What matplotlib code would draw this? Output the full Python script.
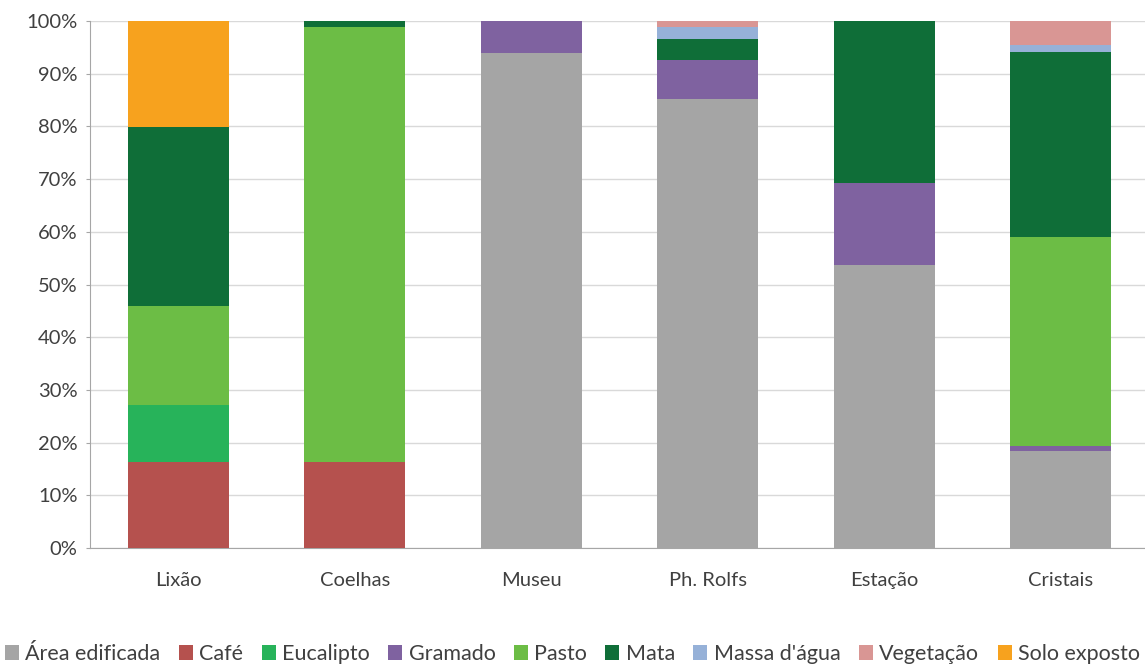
import matplotlib
matplotlib.use("Agg")
import matplotlib.pyplot as plt
import numpy as np
from matplotlib.patches import Patch

plt.rcParams['font.family'] = ['Lato', 'DejaVu Sans']

sites = ["Lixão", "Coelhas", "Museu", "Ph. Rolfs", "Estação", "Cristais"]
classes = ["Área edificada", "Café", "Eucalipto", "Gramado", "Pasto",
           "Mata", "Massa d'água", "Vegetação", "Solo exposto"]

# percentage of each land-cover class per site
area_edificada = [0.0, 0.0, 93.9, 85.2, 53.7, 18.5]
cafe           = [16.3, 16.3, 0.0, 0.0, 0.0, 0.0]
eucalipto      = [10.8, 0.0, 0.0, 0.0, 0.0, 0.0]
gramado        = [0.0, 0.0, 6.1, 7.4, 15.6, 0.9]
pasto          = [18.8, 82.6, 0.0, 0.0, 0.0, 39.6]
mata           = [34.0, 1.1, 0.0, 4.0, 30.7, 35.2]
massa_agua     = [0.0, 0.0, 0.0, 2.2, 0.0, 1.2]
vegetacao      = [0.0, 0.0, 0.0, 1.2, 0.0, 4.6]
solo_exposto   = [20.1, 0.0, 0.0, 0.0, 0.0, 0.0]

series = [area_edificada, cafe, eucalipto, gramado, pasto,
          mata, massa_agua, vegetacao, solo_exposto]
colors = ["#A5A5A5", "#B5514E", "#27B35A", "#7F62A0", "#6CBD45",
          "#0F6E38", "#96B1D8", "#D99694", "#F7A21E"]

fig = plt.figure(figsize=(11.45, 6.66), dpi=100)
ax = fig.add_axes([90/1145, 118/666, 1059/1145, 527/666])

x = np.arange(len(sites))
bottom = np.zeros(len(sites))
for vals, col in zip(series, colors):
    v = np.array(vals)
    ax.bar(x, v, bottom=bottom, width=0.57, color=col, zorder=3)
    bottom += v

ax.set_xlim(-0.5, len(sites) - 0.5)
ax.set_ylim(0, 100)
ax.set_yticks(np.arange(0, 101, 10))
ax.set_yticklabels([f"{t}%" for t in range(0, 101, 10)])
ax.set_xticks(x)
ax.set_xticklabels(sites)
ax.yaxis.grid(True, color="#D9D9D9", linewidth=1, zorder=0)
for s in ["top", "right"]:
    ax.spines[s].set_visible(False)
ax.spines["left"].set_color("#A6A6A6")
ax.spines["bottom"].set_color("#A6A6A6")
ax.tick_params(axis="y", length=3, color="#A6A6A6", labelsize=14.5,
               labelcolor="#404040", pad=6)
ax.tick_params(axis="x", length=0, labelsize=14.5, labelcolor="#404040", pad=17)

handles = [Patch(facecolor=c, edgecolor="none") for c in colors]
fig.legend(handles, classes, loc="center", bbox_to_anchor=(0.5, 12/666),
           ncol=9, frameon=False, fontsize=15.5, handlelength=0.65,
           handleheight=0.65, handletextpad=0.3, columnspacing=0.85,
           labelcolor="#404040")

fig.savefig("out.png", dpi=100)
